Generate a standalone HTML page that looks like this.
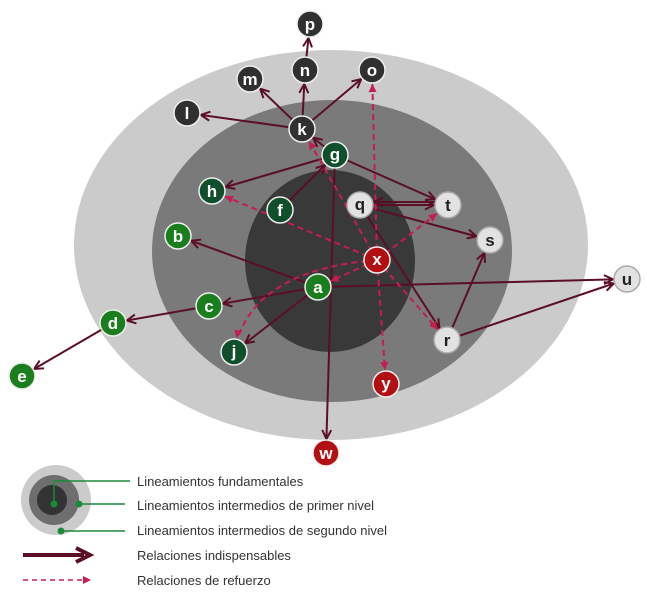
<!DOCTYPE html>
<html><head><meta charset="utf-8"><style>
html,body{margin:0;padding:0;background:#fff}
svg{display:block}
text{font-family:"Liberation Sans",sans-serif}
.n text{font-weight:bold;font-size:17px;text-anchor:middle}
</style></head><body>
<svg width="647" height="600" viewBox="0 0 647 600" xmlns="http://www.w3.org/2000/svg">
<defs>
<marker id="s" markerUnits="userSpaceOnUse" markerWidth="40" markerHeight="20" viewBox="-20 -10 40 20" refX="14" refY="0" orient="auto" overflow="visible">
<polyline points="-9,-4.5 0,0 -9,4.5" fill="none" stroke="#5a0f25" stroke-width="2"/>
</marker>
<marker id="d" markerUnits="userSpaceOnUse" markerWidth="40" markerHeight="20" viewBox="-20 -10 40 20" refX="14" refY="0" orient="auto" overflow="visible">
<polygon points="-8,-4 0,0 -8,4" fill="#c41e50"/>
</marker>
</defs>
<ellipse cx="331" cy="245" rx="257" ry="195" fill="#cbcbcb"/>
<ellipse cx="332" cy="251" rx="180" ry="151" fill="#7a7a7a"/>
<ellipse cx="330" cy="261" rx="85" ry="91" fill="#393939"/>
<g fill="none" stroke="#5a0f25" stroke-width="2" marker-end="url(#s)">
<line x1="302" y1="129" x2="187" y2="113"/>
<line x1="302" y1="129" x2="250" y2="79"/>
<line x1="302" y1="129" x2="305" y2="70"/>
<line x1="302" y1="129" x2="372" y2="70"/>
<line x1="305" y1="70" x2="310" y2="24"/>
<line x1="335" y1="155" x2="302" y2="129"/>
<line x1="335" y1="155" x2="212" y2="191"/>
<line x1="280" y1="210" x2="335" y2="155"/>
<line x1="335" y1="155" x2="448" y2="205"/>
<line x1="335" y1="155" x2="326" y2="453"/>
<line x1="360" y1="205" x2="448" y2="205"/>
<line x1="448" y1="202" x2="360" y2="202"/>
<line x1="360" y1="205" x2="490" y2="240"/>
<line x1="360" y1="205" x2="447" y2="340"/>
<line x1="318" y1="287" x2="178" y2="236"/>
<line x1="318" y1="287" x2="209" y2="306"/>
<line x1="318" y1="287" x2="234" y2="352"/>
<line x1="318" y1="287" x2="627" y2="279"/>
<line x1="209" y1="306" x2="113" y2="323"/>
<line x1="113" y1="323" x2="22" y2="376"/>
<line x1="447" y1="340" x2="490" y2="240"/>
<line x1="447" y1="340" x2="627" y2="279"/>
</g>
<g fill="none" stroke="#c41e50" stroke-width="2" stroke-dasharray="6,4" marker-end="url(#d)">
<line x1="377" y1="260" x2="212" y2="191"/>
<line x1="377" y1="260" x2="302" y2="129"/>
<line x1="377" y1="260" x2="372" y2="70"/>
<line x1="377" y1="260" x2="448" y2="205"/>
<line x1="377" y1="260" x2="318" y2="287"/>
<path d="M377,260 Q250,270 234,352"/>
<line x1="377" y1="260" x2="447" y2="340"/>
<line x1="377" y1="260" x2="386" y2="384"/>
</g>
<g class="n" stroke="#eee" stroke-width="1.5">
<g fill="#303030">
<circle cx="310" cy="24" r="13"/><circle cx="305" cy="70" r="13"/><circle cx="250" cy="79" r="13"/><circle cx="372" cy="70" r="13"/><circle cx="187" cy="113" r="13"/><circle cx="302" cy="129" r="13"/>
</g>
<g fill="#0f4f2c">
<circle cx="335" cy="155" r="13"/><circle cx="212" cy="191" r="13"/><circle cx="280" cy="210" r="13"/><circle cx="234" cy="352" r="13"/>
</g>
<g fill="#1a7d1e">
<circle cx="178" cy="236" r="13"/><circle cx="318" cy="287" r="13"/><circle cx="209" cy="306" r="13"/><circle cx="113" cy="323" r="13"/><circle cx="22" cy="376" r="13"/>
</g>
<g fill="#e2e2e2" stroke="#aaa">
<circle cx="360" cy="205" r="13"/><circle cx="448" cy="205" r="13"/><circle cx="490" cy="240" r="13"/><circle cx="627" cy="279" r="13"/><circle cx="447" cy="340" r="13"/>
</g>
<g fill="#b30f12">
<circle cx="377" cy="260" r="13"/><circle cx="386" cy="384" r="13"/><circle cx="326" cy="453" r="13"/>
</g>
</g>
<g class="n" fill="#fff">
<text x="310" y="30">p</text><text x="305" y="76">n</text><text x="250" y="85">m</text><text x="372" y="76">o</text><text x="187" y="119">l</text><text x="302" y="135">k</text>
<text x="335" y="160">g</text><text x="212" y="197">h</text><text x="280" y="216">f</text><text x="234" y="357">j</text>
<text x="178" y="242">b</text><text x="318" y="293">a</text><text x="209" y="312">c</text><text x="113" y="329">d</text><text x="22" y="382">e</text>
<text x="377" y="265">x</text><text x="386" y="389">y</text><text x="326" y="459">w</text>
</g>
<g class="n" fill="#222">
<text x="360" y="210">q</text><text x="448" y="211">t</text><text x="490" y="246">s</text><text x="627" y="285">u</text><text x="447" y="346">r</text>
</g>
<circle cx="56" cy="500" r="35" fill="#cbcbcb"/>
<circle cx="54" cy="500" r="25" fill="#6e6e6e"/>
<circle cx="52" cy="500" r="15" fill="#333"/>
<g stroke="#1a8a3a" stroke-width="1.5" fill="none">
<polyline points="54,504 54,481 130,481"/>
<line x1="79" y1="504" x2="125" y2="504"/>
<line x1="61" y1="531" x2="125" y2="531"/>
</g>
<g fill="#1a8a3a"><circle cx="54" cy="504" r="3.5"/><circle cx="79" cy="504" r="3.5"/><circle cx="61" cy="531" r="3.5"/></g>
<line x1="23" y1="555" x2="84" y2="555" stroke="#5a0f25" stroke-width="4"/>
<polyline points="76,548 90,555 76,562" fill="none" stroke="#5a0f25" stroke-width="4"/>
<line x1="23" y1="580" x2="82" y2="580" stroke="#c41e50" stroke-width="1.5" stroke-dasharray="5,4"/>
<polygon points="83,576 91,580 83,584" fill="#c41e50"/>
<g font-size="13" fill="#333">
<text x="137" y="486">Lineamientos fundamentales</text>
<text x="137" y="510">Lineamientos intermedios de primer nivel</text>
<text x="137" y="535">Lineamientos intermedios de segundo nivel</text>
<text x="137" y="560">Relaciones indispensables</text>
<text x="137" y="585">Relaciones de refuerzo</text>
</g>
</svg>
</body></html>
